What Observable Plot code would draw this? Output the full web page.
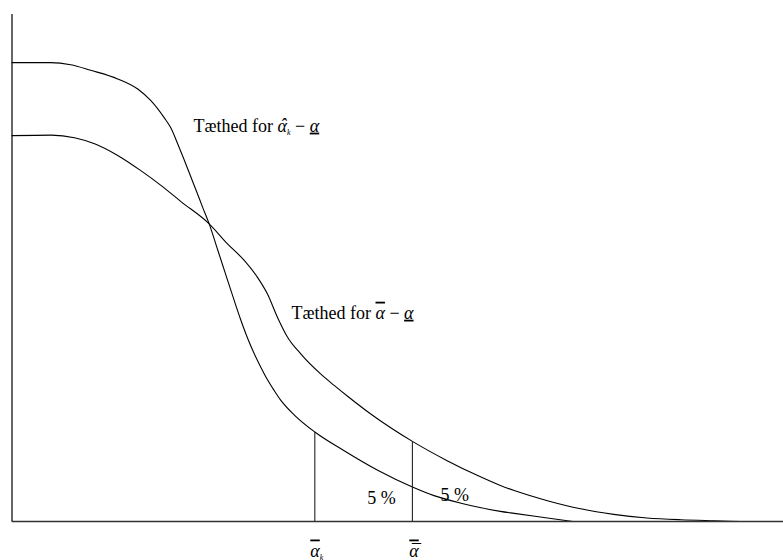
<!DOCTYPE html>
<html>
<head>
<meta charset="utf-8">
<script src="https://cdn.jsdelivr.net/npm/d3@7"></script>
<script src="https://cdn.jsdelivr.net/npm/@observablehq/plot@0.6"></script>
<style>
  html, body { margin: 0; padding: 0; background: #fff; }
</style>
</head>
<body>
<div id="chart"></div>
<script>
// Density of alpha-hat_k minus alpha (narrow, steep curve)
const xHat = [0, 0.25, 0.5, 0.76, 1.02, 1.37, 1.63, 1.80, 1.97, 2.06, 2.15, 2.23, 2.32, 2.40, 2.47, 2.556, 2.67, 2.73, 2.80, 2.88, 2.96, 3.05, 3.14, 3.23, 3.31, 3.40, 3.48, 3.66, 3.93, 4.30, 4.74, 5.19, 5.47, 5.82, 6.08, 6.33, 6.51, 6.94, 7.27];
const yHat = [0.905, 0.905, 0.905, 0.901, 0.890, 0.873, 0.853, 0.830, 0.797, 0.776, 0.744, 0.714, 0.679, 0.648, 0.620, 0.587, 0.534, 0.506, 0.473, 0.436, 0.400, 0.363, 0.331, 0.303, 0.280, 0.258, 0.240, 0.210, 0.176, 0.140, 0.101, 0.068, 0.051, 0.036, 0.027, 0.020, 0.016, 0.007, 0];

// Density of alpha-bar minus alpha (wider curve)
const xBar = [0, 0.51, 0.81, 1.07, 1.37, 1.67, 1.93, 2.19, 2.556, 2.79, 3.01, 3.18, 3.31, 3.44, 3.57, 3.74, 4.00, 4.18, 4.35, 4.65, 5.19, 5.64, 6.03, 6.33, 6.51, 6.94, 7.37, 7.80, 8.23, 8.67, 9.10, 9.44];
const yBar = [0.761, 0.762, 0.757, 0.745, 0.722, 0.692, 0.663, 0.631, 0.587, 0.548, 0.515, 0.482, 0.449, 0.403, 0.364, 0.331, 0.291, 0.268, 0.247, 0.212, 0.158, 0.120, 0.091, 0.071, 0.061, 0.041, 0.025, 0.014, 0.007, 0.0034, 0.0014, 0];

// Critical values (95 % quantiles) and density heights there
const cutX = [3.925, 5.19];
const cutTop = [0.176, 0.158];
const cutLabels = ["\u03B1\u0305\u2096", "\u03B1\u033F"];

// Tail area labels
const pctX = [4.79, 5.74];
const pctY = [0.035, 0.040];
const pctLabels = ["5 %", "5 %"];

// Curve labels
const curveLabelX = [2.354, 3.623];
const curveLabelY = [0.769, 0.400];
const curveLabels = ["T\u00E6thed for \u03B1\u0302\u2096 \u2212 \u03B1\u0332", "T\u00E6thed for \u03B1\u0305 \u2212 \u03B1\u0332"];

const hat = xHat.map((x, i) => ({x, y: yHat[i]}));
const bar = xBar.map((x, i) => ({x, y: yBar[i]}));
const cuts = cutX.map((x, i) => ({x, top: cutTop[i], label: cutLabels[i]}));
const pcts = pctX.map((x, i) => ({x, y: pctY[i], label: pctLabels[i]}));
const curveText = curveLabelX.map((x, i) => ({x, y: curveLabelY[i], label: curveLabels[i]}));

const font = "'Liberation Serif', 'Times New Roman', Tinos, 'DejaVu Serif', serif";

const chart = Plot.plot({
  width: 783,
  height: 560,
  marginLeft: 11.5,
  marginRight: 0,
  marginTop: 14,
  marginBottom: 39,
  x: {domain: [0, 10], axis: null},
  y: {domain: [0, 1], axis: null},
  style: {background: "#fff", fontFamily: font, fontSize: "18px", color: "#000"},
  marks: [
    Plot.line(hat, {x: "x", y: "y", curve: "monotone-x", stroke: "#000", strokeWidth: 1.1}),
    Plot.line(bar, {x: "x", y: "y", curve: "monotone-x", stroke: "#000", strokeWidth: 1.1}),
    Plot.ruleX(cuts, {x: "x", y1: 0, y2: "top", stroke: "#222", strokeWidth: 1.1}),
    Plot.ruleY([0], {stroke: "#333", strokeWidth: 1.6}),
    Plot.ruleX([0], {stroke: "#000", strokeWidth: 1.2}),
    Plot.text(curveText, {x: "x", y: "y", text: "label", textAnchor: "start", lineAnchor: "bottom", fontSize: 18, fill: "#000"}),
    Plot.text(pcts, {x: "x", y: "y", text: "label", textAnchor: "middle", lineAnchor: "bottom", fontSize: 18, fill: "#000"}),
    Plot.text(cuts, {x: "x", y: 0, text: "label", textAnchor: "middle", lineAnchor: "bottom", dy: 35, dx: 2, fontSize: 18, fill: "#000"})
  ]
});

document.getElementById("chart").appendChild(chart);

// Typeset the Greek symbols: italic alpha, accents, bars and subscripts
function typeset(svg) {
  d3.select(svg).selectAll("text").each(function() {
    const t = this.textContent;
    if (!/[\u03B1\u2096]/.test(t)) return;
    const sel = d3.select(this);
    sel.text(null);
    const re = /(\u03B1[\u0300-\u036F]*|\u2096)/g;
    let last = 0, m, pendingDx = 0, pendingDy = 0;
    const add = (s) => {
      const ts = sel.append("tspan").text(s);
      if (pendingDx) ts.attr("dx", pendingDx);
      if (pendingDy) ts.attr("dy", pendingDy);
      pendingDx = 0; pendingDy = 0;
      return ts;
    };
    while ((m = re.exec(t)) !== null) {
      if (m.index > last) add(t.slice(last, m.index));
      const tok = m[0];
      if (tok === "\u2096") {
        const ts = add("k").attr("font-size", 8).attr("font-style", "italic");
        ts.attr("dy", (+ts.attr("dy") || 0) + 3);
        pendingDy = -3;
      } else {
        const marks = tok.slice(1);
        const a = add("\u03B1").attr("font-style", "italic");
        if (marks.includes("\u0332")) a.style("text-decoration", "underline");
        if (marks.includes("\u0305") || marks.includes("\u0304") || marks.includes("\u033F")) a.style("text-decoration", "overline");
        if (marks.includes("\u0302") || marks.includes("\u033F")) {
          const isHat = marks.includes("\u0302");
          const wa = a.node().getComputedTextLength();
          const acc = sel.append("tspan").text(isHat ? "\u02C6" : "\u00AF").attr("font-style", "italic");
          const wc = acc.node().getComputedTextLength();
          acc.attr("dx", -(wa + wc) / 2 + 1);
          if (isHat) acc.attr("dy", -1);
          pendingDx = (wa - wc) / 2 - 1;
          if (isHat) pendingDy = 1;
        }
      }
      last = m.index + tok.length;
    }
    if (last < t.length) add(t.slice(last));
  });
}
typeset(chart);
</script>
</body>
</html>
